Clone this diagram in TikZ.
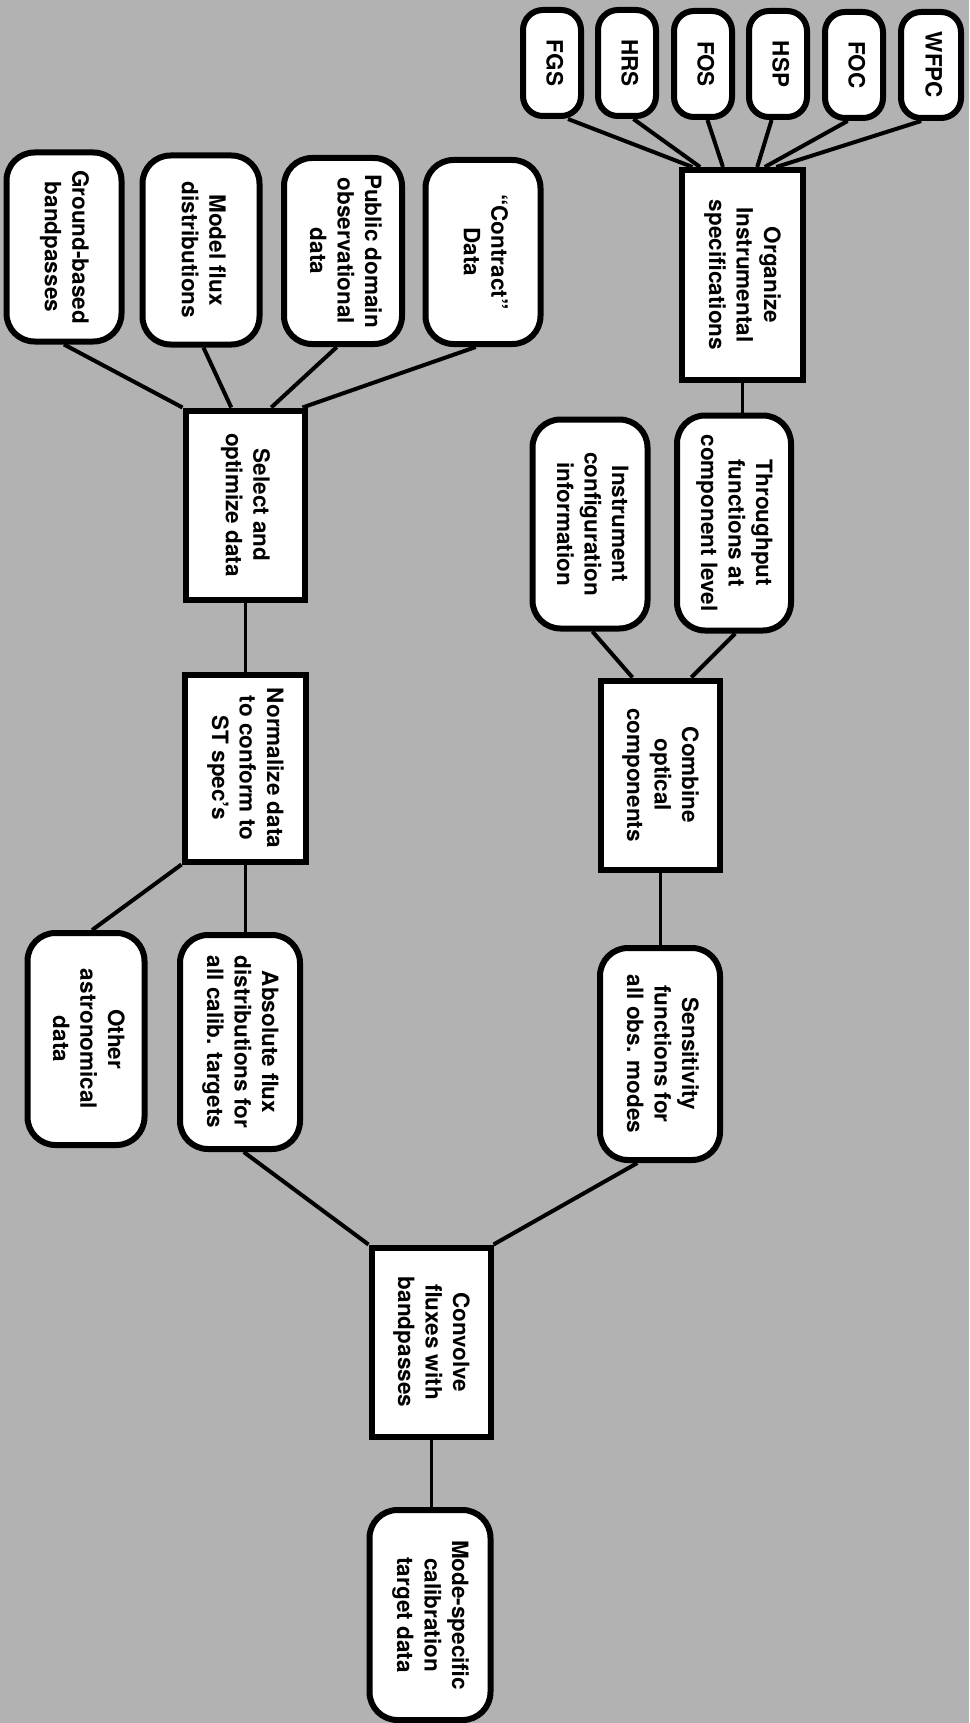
\documentclass[tikz,border=0pt]{standalone}
\usepackage{fontspec}
\setmainfont{TeX Gyre Heros}
\usetikzlibrary{calc}
\pgfdeclarelayer{paperlayer}
\pgfdeclarelayer{bg}
\pgfsetlayers{paperlayer,bg,main}
\definecolor{paper}{RGB}{178,178,178}
\newcommand{\rt}[1]{\rotatebox[origin=c]{-90}{\begin{tabular}{@{}c@{}}#1\end{tabular}}}
\tikzset{
  box/.style={draw=black, line width=6pt, fill=white, inner sep=0pt,
    font=\bfseries\fontsize{22.5}{27.5}\selectfont},
  rbox/.style={box, rounded corners=28pt},
  ibox/.style={box, rounded corners=20pt, minimum width=58pt, minimum height=106pt},
  conn/.style={line width=4pt},
  vconn/.style={line width=3pt}
}
\begin{document}
\begin{tikzpicture}[x=1pt, y=-1pt]
\useasboundingbox (0,0) rectangle (969,1723);
\begin{pgfonlayer}{paperlayer}
\fill[paper] (0,0) rectangle (969,1723);
\end{pgfonlayer}

% instrument boxes
\node[ibox] (fgs)  at (552,63) {\rt{FGS}};
\node[ibox] (hrs)  at (627,63) {\rt{HRS}};
\node[ibox] (fos)  at (703,64) {\rt{FOS}};
\node[ibox] (hsp)  at (778,64) {\rt{HSP}};
\node[ibox] (foc)  at (854,65) {\rt{FOC}};
\node[ibox, minimum width=60pt] (wfpc) at (931,65) {\rt{WFPC}};

% rectangles
\node[box, minimum width=121pt, minimum height=210pt] (org)  at (742,275)  {\rt{Organize\\Instrumental\\specifications}};
\node[box, minimum width=119pt, minimum height=189pt] (sel)  at (245,505)  {\rt{Select and\\optimize data}};
\node[box, minimum width=121pt, minimum height=187pt] (norm) at (245,768)  {\rt{Normalize data\\to conform to\\ST spec's}};
\node[box, minimum width=119pt, minimum height=189pt] (comb) at (660,775)  {\rt{Combine\\optical\\components}};
\node[box, minimum width=119pt, minimum height=189pt] (conv) at (431,1342) {\rt{Convolve\\fluxes with\\bandpasses}};

% rounded boxes
\node[rbox, minimum width=115pt, minimum height=189pt] (gb)   at (64,247)   {\rt{Ground-based\\bandpasses}};
\node[rbox, minimum width=117pt, minimum height=189pt] (mf)   at (201,250)  {\rt{Model flux\\distributions}};
\node[rbox, minimum width=118pt, minimum height=186pt] (pd)   at (343,251)  {\rt{Public domain\\observational\\data}};
\node[rbox, minimum width=115pt, minimum height=184pt] (con)  at (483,252)  {\rt{“Contract”\\Data}};
\node[rbox, minimum width=114pt, minimum height=215pt] (thr)  at (734,523)  {\rt{Throughput\\functions at\\component level}};
\node[rbox, minimum width=115pt, minimum height=209pt] (ic)   at (590,524)  {\rt{Instrument\\configuration\\information}};
\node[rbox, minimum width=120pt, minimum height=212pt] (sens) at (660,1054) {\rt{Sensitivity\\functions for\\all obs. modes}};
\node[rbox, minimum width=120pt, minimum height=214pt] (abs)  at (240,1042) {\rt{Absolute flux\\distributions for\\all calib. targets}};
\node[rbox, minimum width=117pt, minimum height=212pt] (oth)  at (86,1039)  {\rt{Other\\astronomical\\data}};
\node[rbox, minimum width=121pt, minimum height=210pt] (mode) at (430,1615) {\rt{Mode-specific\\calibration\\target data}};

\begin{pgfonlayer}{bg}
% instruments -> organize
\draw[conn] ($(fgs.south west)!0.75!(fgs.south east)$)  -- ($(org.north west)!0.11!(org.north east)$);
\draw[conn] ($(hrs.south west)!0.6!(hrs.south east)$)   -- ($(org.north west)!0.17!(org.north east)$);
\draw[conn] ($(fos.south west)!0.57!(fos.south east)$)  -- ($(org.north west)!0.35!(org.north east)$);
\draw[conn] ($(hsp.south west)!0.4!(hsp.south east)$)   -- ($(org.north west)!0.62!(org.north east)$);
\draw[conn] ($(foc.south west)!0.4!(foc.south east)$)   -- ($(org.north west)!0.68!(org.north east)$);
\draw[conn] ($(wfpc.south west)!0.35!(wfpc.south east)$) -- ($(org.north west)!0.77!(org.north east)$);
% sources -> select
\draw[conn] ($(gb.south west)!0.5!(gb.south east)$)   -- (sel.north west);
\draw[conn] ($(mf.south west)!0.52!(mf.south east)$)  -- ($(sel.north west)!0.39!(sel.north east)$);
\draw[conn] ($(pd.south west)!0.45!(pd.south east)$)  -- ($(sel.north west)!0.71!(sel.north east)$);
\draw[conn] ($(con.south west)!0.44!(con.south east)$) -- ($(sel.north west)!0.96!(sel.north east)$);
% organize -> throughput
\draw[vconn] (org.south) -- (org.south |- thr.north);
% throughput, instrument config -> combine
\draw[conn] ($(ic.south west)!0.52!(ic.south east)$)   -- ($(comb.north west)!0.28!(comb.north east)$);
\draw[conn] ($(thr.south west)!0.51!(thr.south east)$) -- ($(comb.north west)!0.75!(comb.north east)$);
% select -> normalize
\draw[vconn] (sel.south) -- (norm.north);
% normalize -> absolute, other
\draw[vconn] (norm.south) -- (norm.south |- abs.north);
\draw[conn] (norm.south west) -- ($(oth.north west)!0.55!(oth.north east)$);
% combine -> sensitivity
\draw[vconn] (comb.south) -- (sens.north);
% absolute, sensitivity -> convolve
\draw[conn] ($(abs.south west)!0.53!(abs.south east)$)   -- (conv.north west);
\draw[conn] ($(sens.south west)!0.32!(sens.south east)$) -- (conv.north east);
% convolve -> mode
\draw[vconn] (conv.south) -- (conv.south |- mode.north);
\end{pgfonlayer}
\end{tikzpicture}
\end{document}
